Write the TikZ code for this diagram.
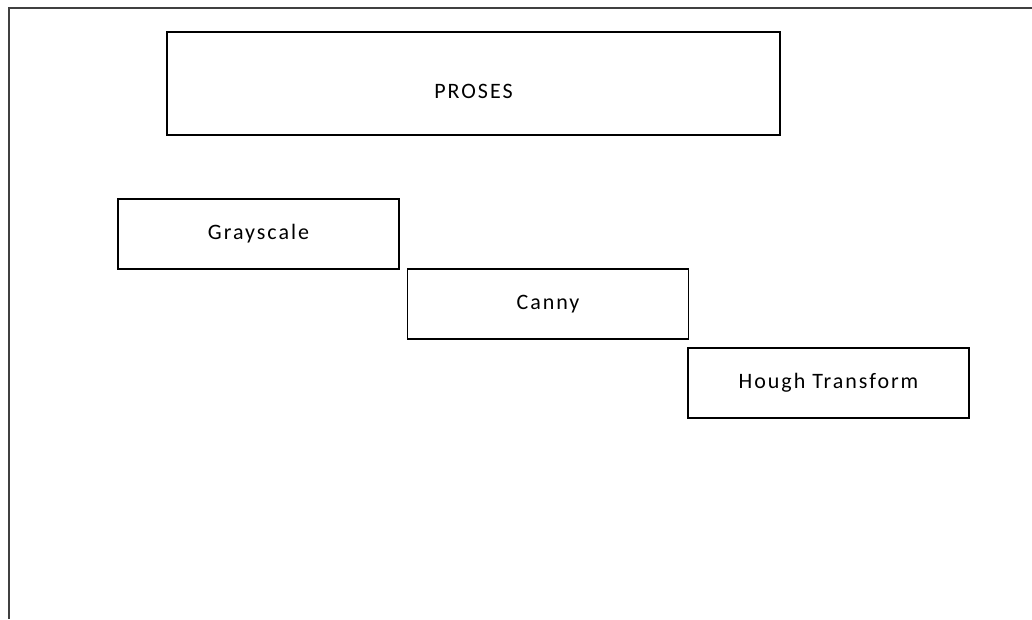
\documentclass[tikz,border=0pt]{standalone}
\usepackage{fontspec}
\setmainfont{Carlito}[LetterSpace=9]

\begin{document}
\begin{tikzpicture}[
    x=1pt,y=-1pt,font=\fontsize{22}{26}\selectfont,
    frame/.style={line width=2.2pt,draw=black!75},
    stage/.style={draw,line width=1.3pt,minimum width=281pt,minimum height=70pt,
        inner sep=0pt,text=black},
    header/.style={stage,minimum width=613pt,minimum height=103pt}
]
    \useasboundingbox (0,0) rectangle (1032,619);

    % page edge, top and left only
    \coordinate (corner) at (9,8);
    \coordinate (right end) at (1032,8);
    \coordinate (bottom end) at (9,619);
    \draw[frame] (right end) -- (corner) -- (bottom end);

    % main box, text sits a little low
    \node[header,label={[name=proses label,yshift=-8pt,text=black]center:PROSES}]
        (proses) at (473.5,83.5) {};

    % the three steps, stepping down to the right
    \node[stage] (grayscale) at (258.5,234) {Grayscale};
    \node[stage] (canny) at (548,304) {Canny};
    \node[stage] (hough) at (828.5,383) {Hough Transform};
\end{tikzpicture}
\end{document}
